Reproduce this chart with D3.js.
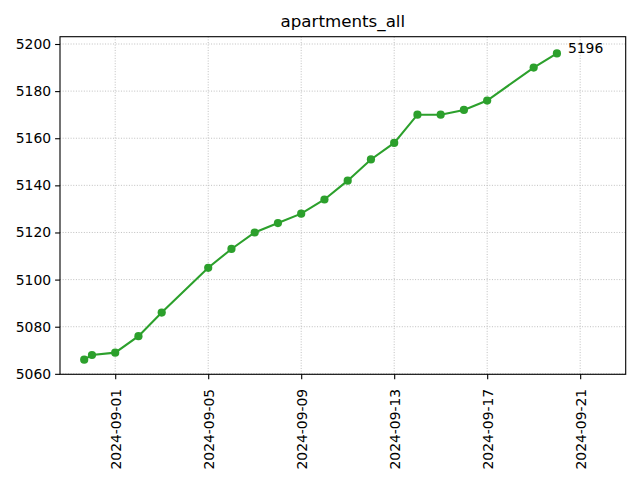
<!DOCTYPE html>
<html><head><meta charset="utf-8">
<script src="https://cdn.jsdelivr.net/npm/d3@7"></script>
<style>body{margin:0;background:#fff}svg{display:block}text{font-family:"DejaVu Sans",sans-serif}</style>
</head><body>
<script>
const title = "apartments_all";
const dates = ["2024-08-30T16:00","2024-08-31T00:00","2024-09-01T00:00","2024-09-02T00:00","2024-09-03T00:00",
  "2024-09-05T00:00","2024-09-06T00:00","2024-09-07T00:00","2024-09-08T00:00","2024-09-09T00:00",
  "2024-09-10T00:00","2024-09-11T00:00","2024-09-12T00:00","2024-09-13T00:00","2024-09-14T00:00",
  "2024-09-15T00:00","2024-09-16T00:00","2024-09-17T00:00","2024-09-19T00:00","2024-09-20T00:00"];
const values = [5066,5068,5069,5076,5086,5105,5113,5120,5124,5128,5134,5142,5151,5158,5170,5170,5172,5176,5190,5196];
const xTickLabels = ["2024-09-01","2024-09-05","2024-09-09","2024-09-13","2024-09-17","2024-09-21"];
const yTicks = [5060,5080,5100,5120,5140,5160,5180,5200];

const W=640,H=480;
const L=60, R=625.7, T=36.7, B=374.3;
const parse = s => new Date(s+"Z");
const data = dates.map((d,i)=>({x:parse(d), y:values[i]}));
const x = d3.scaleUtc().domain([parse("2024-08-29T15:00"), parse("2024-09-22T23:00")]).range([L,R]);
const y = d3.scaleLinear().domain([5059.8,5203.1]).range([B,T]);
const xTicks = xTickLabels.map(s=>parse(s+"T00:00"));

const svg = d3.select("body").append("svg").attr("width",W).attr("height",H);
const grid = svg.append("g").attr("stroke","#b0b0b0").attr("stroke-width",0.8).attr("stroke-dasharray","1,1.65");
grid.selectAll(".gx").data(xTicks).join("line").attr("x1",d=>x(d)).attr("x2",d=>x(d)).attr("y1",T).attr("y2",B);
grid.selectAll(".gy").data(yTicks).join("line").attr("y1",d=>y(d)).attr("y2",d=>y(d)).attr("x1",L).attr("x2",R);

const xAxis = d3.axisBottom(x).tickValues(xTicks).tickFormat(d3.utcFormat("%Y-%m-%d")).tickSizeInner(4.9).tickSizeOuter(0).tickPadding(3);
const gx = svg.append("g").attr("transform",`translate(0,${B})`).call(xAxis);
gx.select(".domain").remove();
gx.selectAll("line").attr("stroke","#000").attr("stroke-width",1.1);
gx.selectAll("text").attr("font-size",13.9).attr("fill","#000").attr("font-family","DejaVu Sans")
  .attr("text-anchor","end").attr("dy","0.35em").attr("transform","translate(0,14.5) rotate(-90)").attr("y",0).attr("x",0);

const yAxis = d3.axisLeft(y).tickValues(yTicks).tickFormat(d3.format("d")).tickSizeInner(4.9).tickSizeOuter(0).tickPadding(4);
const gy = svg.append("g").attr("transform",`translate(${L},0)`).call(yAxis);
gy.select(".domain").remove();
gy.selectAll("line").attr("stroke","#000").attr("stroke-width",1.1);
gy.selectAll("text").attr("font-size",13.9).attr("fill","#000").attr("font-family","DejaVu Sans");

const line = d3.line().x(d=>x(d.x)).y(d=>y(d.y));
svg.append("path").datum(data).attr("d",line).attr("fill","none").attr("stroke","#2ca02c").attr("stroke-width",2.08);
svg.selectAll(".pt").data(data).join("circle").attr("cx",d=>x(d.x)).attr("cy",d=>y(d.y)).attr("r",4.1).attr("fill","#2ca02c");

const last = data[data.length-1];
svg.append("text").attr("x",x(last.x)+11).attr("y",y(last.y)-5).attr("dy","0.35em").attr("font-size",13.9).text(String(last.y));

svg.append("rect").attr("x",L).attr("y",T).attr("width",R-L).attr("height",B-T).attr("fill","none").attr("stroke","#000").attr("stroke-width",1.1);
svg.append("text").attr("x",(L+R)/2).attr("y",T-10).attr("text-anchor","middle").attr("font-size",16.7).text(title);
</script>
</body></html>
